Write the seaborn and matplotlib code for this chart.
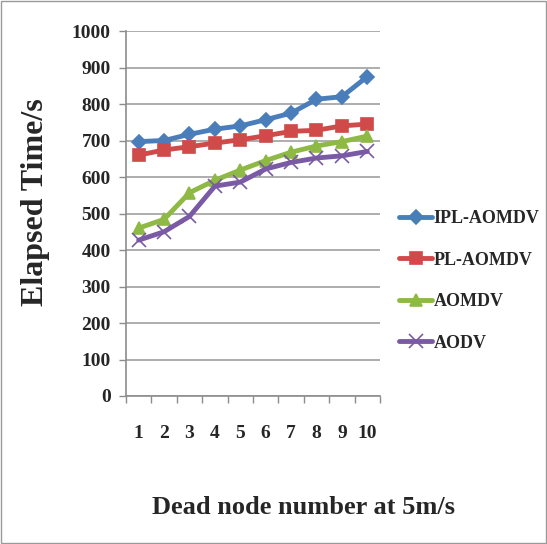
import matplotlib
matplotlib.use("Agg")
import matplotlib.pyplot as plt
import seaborn as sns
import pandas as pd
from matplotlib.ticker import FixedLocator

categories = ["1", "2", "3", "4", "5", "6", "7", "8", "9", "10"]
ipl_aomdv = [697, 700, 717, 731, 740, 757, 775, 813, 820, 875]
pl_aomdv = [660, 674, 683, 693, 702, 713, 725, 728, 740, 745]
aomdv = [460, 484, 557, 591, 619, 645, 668, 685, 697, 712]
aodv = [427, 450, 492, 575, 586, 622, 640, 652, 658, 670]
series_names = ["IPL-AOMDV", "PL-AOMDV", "AOMDV", "AODV"]
y_ticks = list(range(0, 1001, 100))

colors = {"IPL-AOMDV": "#4A7EBB", "PL-AOMDV": "#D04A4A",
          "AOMDV": "#8DB944", "AODV": "#7A5AA5"}
markers = {"IPL-AOMDV": "D", "PL-AOMDV": "s", "AOMDV": "^", "AODV": "x"}
msizes = {"IPL-AOMDV": 7.5, "PL-AOMDV": 9, "AOMDV": 9, "AODV": 10}

sns.set_style("white")
plt.rcParams["font.family"] = ["Liberation Serif", "DejaVu Serif"]
plt.rcParams["font.weight"] = "bold"

fig = plt.figure(figsize=(5.47, 5.44), dpi=100)
ax = fig.add_axes([126/547, (544-396)/544, (380-126)/547, (396-31)/544])

for name, vals in zip(series_names, [ipl_aomdv, pl_aomdv, aomdv, aodv]):
    d = pd.DataFrame({"pos": list(range(len(categories))), "value": vals})
    sns.lineplot(data=d, x="pos", y="value", color=colors[name], marker=markers[name],
                 markersize=msizes[name], linewidth=3.5, label=name, ax=ax,
                 markeredgecolor=colors[name], markeredgewidth=1.2)

ax.set_xlim(-0.5, 9.5)
ax.set_ylim(0, 1000)
ax.set_yticks(y_ticks)
ax.set_yticklabels([str(t) for t in y_ticks], fontsize=14, fontweight="bold")
ax.set_xticks(range(len(categories)))
ax.set_xticklabels(categories, fontsize=14, fontweight="bold")
ax.xaxis.set_minor_locator(FixedLocator([i - 0.5 for i in range(len(categories) + 1)]))
ax.tick_params(axis="x", which="major", length=0, pad=21)
ax.tick_params(axis="x", which="minor", length=5, color="#8C8C8C", width=1, bottom=True)
ax.tick_params(axis="y", which="major", length=5, color="#8C8C8C", width=1, left=True, pad=6)
ax.grid(axis="y", color="#A0A0A0", linewidth=1.2)
ax.set_axisbelow(True)
for s in ["top", "right"]:
    ax.spines[s].set_visible(False)
for s in ["left", "bottom"]:
    ax.spines[s].set_color("#8C8C8C")
    ax.spines[s].set_linewidth(1.2)

ax.set_xlabel("")
ax.set_ylabel("")
fig.text(36/547, 1 - 202/544, "Elapsed Time/s", rotation=90, ha="center", va="center",
         fontsize=23, fontweight="bold")
fig.text(304/547, 1 - 507/544, "Dead node number at 5m/s", ha="center", va="center",
         fontsize=19, fontweight="bold")

handles, labels = ax.get_legend_handles_labels()
ax.legend(handles, labels, loc="center left", bbox_to_anchor=(383/547, 1 - 281/544),
          bbox_transform=fig.transFigure, frameon=False, handlelength=1.8,
          handletextpad=0.1, labelspacing=1.35, prop={"size": 13, "weight": "bold"})

border = plt.Rectangle((0.002, 0.002), 0.996, 0.996, transform=fig.transFigure,
                       fill=False, edgecolor="#9A9A9A", linewidth=1)
fig.patches.append(border)

fig.savefig("out.png", dpi=100)
